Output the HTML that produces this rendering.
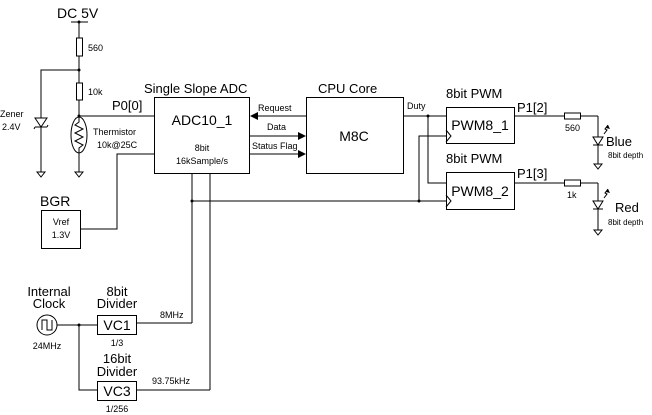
<!DOCTYPE html>
<html><head><meta charset="utf-8"><style>
body{margin:0;background:#fff;}
svg{display:block;font-family:"Liberation Sans",sans-serif;}
</style></head><body>
<svg width="652" height="415" viewBox="0 0 652 415" xmlns="http://www.w3.org/2000/svg">
<defs>
<marker id="ah" markerWidth="8" markerHeight="8" refX="7" refY="4" orient="auto" markerUnits="userSpaceOnUse"><path d="M0,0 L8,4 L0,8 z" fill="#000"/></marker>
</defs>
<g stroke="#000" stroke-width="1" fill="none">
<!-- supply -->
<line x1="71" y1="22" x2="88" y2="22"/>
<line x1="79" y1="22" x2="79" y2="172"/>
<rect x="76.5" y="38" width="6" height="18" fill="#fff"/>
<rect x="76.5" y="83" width="6" height="17" fill="#fff"/>
<polyline points="79,70 41,70 41,172"/>
<line x1="79" y1="116" x2="154" y2="116"/>
<ellipse cx="79" cy="135" rx="8" ry="18" fill="#fff"/>
<polyline points="79,117 79,122 75,125 83,129 75,133 83,137 75,141 83,145 79,148 79,153"/>
<!-- zener -->
<path d="M35,118 L47,118 L41,127 Z" fill="#fff"/>
<line x1="35" y1="127" x2="47" y2="127"/>
<line x1="47" y1="127" x2="48" y2="125"/>
<line x1="35" y1="127" x2="34" y2="129"/>
<!-- grounds -->
<path d="M37,172 L45,172 L41,177 Z"/>
<path d="M75,172 L83,172 L79,177 Z"/>
<!-- vref -->
<polyline points="154,154 117,154 117,229 80,229"/>
<rect x="41.5" y="210.5" width="39" height="38"/>
<!-- ADC / CPU -->
<rect x="154.5" y="97.5" width="95" height="76"/>
<rect x="306.5" y="97.5" width="97" height="76"/>
<line x1="306" y1="116" x2="251" y2="116" marker-end="url(#ah)"/>
<line x1="249" y1="136" x2="305" y2="136" marker-end="url(#ah)"/>
<line x1="249" y1="154" x2="305" y2="154" marker-end="url(#ah)"/>
<!-- clock lines -->
<line x1="192" y1="173" x2="192" y2="323"/>
<line x1="210" y1="173" x2="210" y2="390"/>
<line x1="192" y1="201" x2="446" y2="201"/>
<polyline points="419,201 419,136 446,136"/>
<polyline points="403,116 446,116"/>
<polyline points="428,116 428,183 446,183"/>
<!-- PWM boxes -->
<rect x="446.5" y="107.5" width="68" height="36"/>
<rect x="446.5" y="172.5" width="68" height="37"/>
<polyline points="446,130 451,136 446,142"/>
<polyline points="446,195 451,201 446,207"/>
<!-- outputs -->
<line x1="514" y1="116" x2="598" y2="116"/>
<rect x="564.5" y="113" width="16" height="6" fill="#fff"/>
<line x1="598" y1="116" x2="598" y2="164"/>
<path d="M593,137 L603,137 L598,145 Z" fill="#fff"/>
<line x1="593" y1="145" x2="603" y2="145"/>
<path d="M594,164 L602,164 L598,169 Z"/>
<line x1="514" y1="183" x2="598" y2="183"/>
<rect x="564.5" y="180" width="16" height="6" fill="#fff"/>
<line x1="598" y1="183" x2="598" y2="230"/>
<path d="M593,201 L603,201 L598,209 Z" fill="#fff"/>
<line x1="593" y1="209" x2="603" y2="209"/>
<path d="M594,230 L602,230 L598,235 Z"/>
<!-- led rays -->
<polyline points="604,134 607,130 605,129 608,125"/>
<polyline points="604,198 607,194 605,193 608,189"/>
<!-- clock -->
<circle cx="47" cy="325" r="10"/>
<polyline points="42,330 42,320 47,320 47,330 52,330 52,320"/>
<line x1="57" y1="325" x2="97" y2="325"/>
<polyline points="79,325 79,390 97,390"/>
<rect x="97.5" y="315.5" width="39" height="19"/>
<rect x="97.5" y="381.5" width="39" height="19"/>
<line x1="137" y1="323" x2="192" y2="323"/>
<line x1="137" y1="390" x2="210" y2="390"/>
</g>
<g fill="#000">
<circle cx="79" cy="22" r="1.5"/>
<circle cx="79" cy="70" r="1.5"/>
<circle cx="79" cy="116" r="1.5"/>
<circle cx="192" cy="201" r="1.5"/>
<circle cx="419" cy="201" r="1.5"/>
<circle cx="428" cy="116" r="1.5"/>
<circle cx="79" cy="325" r="1.5"/>
<path d="M608,125 L610,129 L606,128 Z"/>
<path d="M608,189 L610,193 L606,192 Z"/>
</g>
<g fill="#000">
<text x="57" y="18" font-size="14">DC 5V</text>
<text x="88" y="51" font-size="9">560</text>
<text x="88" y="95" font-size="9">10k</text>
<text x="112" y="110" font-size="13">P0[0]</text>
<text x="93" y="135" font-size="9">Thermistor</text>
<text x="97" y="148" font-size="9">10k@25C</text>
<text x="0" y="117" font-size="9">Zener</text>
<text x="2" y="130" font-size="9">2.4V</text>
<text x="40" y="206" font-size="14">BGR</text>
<text x="61" y="225" font-size="9" text-anchor="middle">Vref</text>
<text x="61" y="238" font-size="9" text-anchor="middle">1.3V</text>
<text x="144" y="93" font-size="13">Single Slope ADC</text>
<text x="202" y="125" font-size="14" text-anchor="middle">ADC10_1</text>
<text x="202" y="151" font-size="9" text-anchor="middle">8bit</text>
<text x="202" y="164" font-size="9" text-anchor="middle">16kSample/s</text>
<text x="258" y="111" font-size="9">Request</text>
<text x="267" y="130" font-size="9">Data</text>
<text x="252" y="149" font-size="9">Status Flag</text>
<text x="318" y="93" font-size="13">CPU Core</text>
<text x="354" y="141" font-size="14" text-anchor="middle">M8C</text>
<text x="407" y="109" font-size="9">Duty</text>
<text x="446" y="98" font-size="13">8bit PWM</text>
<text x="446" y="163" font-size="13">8bit PWM</text>
<text x="480" y="130" font-size="14" text-anchor="middle">PWM8_1</text>
<text x="480" y="196" font-size="14" text-anchor="middle">PWM8_2</text>
<text x="517" y="112" font-size="13">P1[2]</text>
<text x="517" y="178" font-size="13">P1[3]</text>
<text x="565" y="131" font-size="9">560</text>
<text x="567" y="198" font-size="9">1k</text>
<text x="606" y="146" font-size="13">Blue</text>
<text x="608" y="158" font-size="8">8bit depth</text>
<text x="615" y="212" font-size="13">Red</text>
<text x="608" y="225" font-size="8">8bit depth</text>
<text x="49" y="296" font-size="13" text-anchor="middle">Internal</text>
<text x="49" y="308" font-size="13" text-anchor="middle">Clock</text>
<text x="47" y="349" font-size="9" text-anchor="middle">24MHz</text>
<text x="117" y="296" font-size="13" text-anchor="middle">8bit</text>
<text x="117" y="308" font-size="13" text-anchor="middle">Divider</text>
<text x="117" y="330" font-size="14" text-anchor="middle">VC1</text>
<text x="117" y="346" font-size="9" text-anchor="middle">1/3</text>
<text x="160" y="318" font-size="9">8MHz</text>
<text x="117" y="363" font-size="13" text-anchor="middle">16bit</text>
<text x="117" y="376" font-size="13" text-anchor="middle">Divider</text>
<text x="117" y="396" font-size="14" text-anchor="middle">VC3</text>
<text x="117" y="412" font-size="9" text-anchor="middle">1/256</text>
<text x="152" y="384" font-size="9">93.75kHz</text>
</g>
</svg>
</body></html>
